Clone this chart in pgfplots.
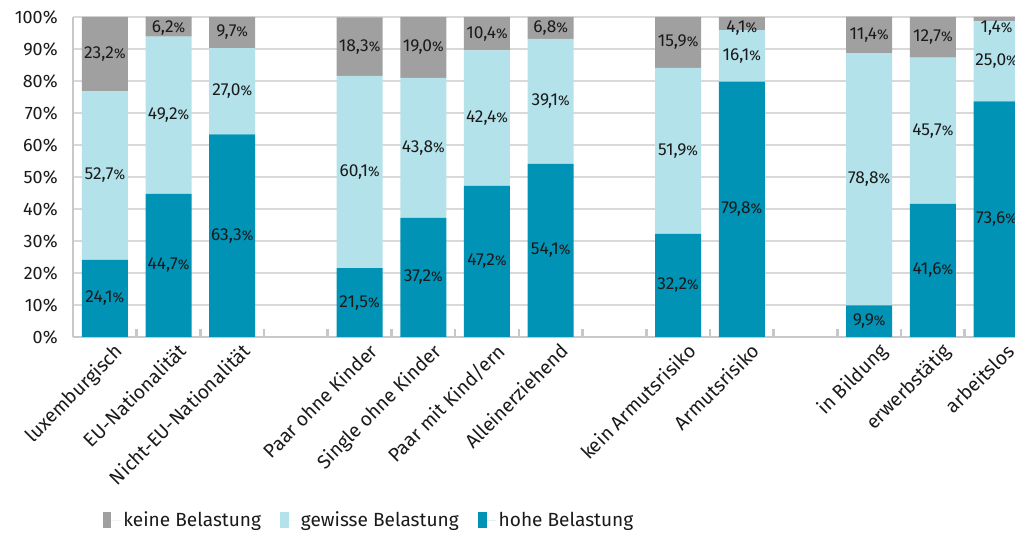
\documentclass[border=0pt]{standalone}
\usepackage{fontspec}
\setmainfont{Fira Sans}
\usepackage{pgfplots}
\usepackage{pgfplotstable}
\pgfplotsset{compat=1.18}
\definecolor{keine}{HTML}{A0A0A0}
\definecolor{gewisse}{HTML}{B3E2EA}
\definecolor{hohe}{HTML}{0093B6}
\definecolor{gridc}{HTML}{D9D9D9}
\definecolor{axisc}{HTML}{C8C8C8}
\definecolor{txt}{HTML}{1A1A1A}
\pgfplotstableread{
x hohe gewisse keine
0 24.1 52.7 23.2
1 44.7 49.2 6.2
2 63.3 27.0 9.7
4 21.5 60.1 18.3
5 37.2 43.8 19.0
6 47.2 42.4 10.4
7 54.1 39.1 6.8
9 32.2 51.9 15.9
10 79.8 16.1 4.1
12 9.9 78.8 11.4
13 41.6 45.7 12.7
14 73.6 25.0 1.4
}\datatable
\pgfplotstablecreatecol[create col/expr={\thisrow{hohe}/2}]{mA}\datatable
\pgfplotstablecreatecol[create col/expr={\thisrow{hohe}+\thisrow{gewisse}/2}]{mB}\datatable
\pgfplotstablecreatecol[create col/expr={\thisrow{hohe}+\thisrow{gewisse}+\thisrow{keine}-max(\thisrow{keine}/2,3.5)}]{mC}\datatable
\pgfplotsset{
  common/.style={
    at={(0pt,0pt)}, anchor=south west,
    scale only axis, width=706.5pt, height=240pt,
    xmin=-0.5, xmax=14.29, ymin=0, ymax=100,
  },
  lbl/.style={only marks, mark=*, mark size=0pt, mark options={draw=none, fill=none},
    point meta=explicit, nodes near coords,
    nodes near coords={\pgfmathprintnumber[fixed,fixed zerofill,precision=1,use comma,assume math mode=true]{\pgfplotspointmeta}{\fontsize{10.5}{12}\selectfont\%}},
    every node near coord/.append style={font=\fontsize{13}{15}\selectfont, text=txt, anchor=center, inner sep=0pt}},
  legimg/.style={legend image code/.code={\fill[#1] (0pt,-6.2pt) rectangle (6.4pt,6.2pt); \path (0pt,0pt) -- (13.5pt,0pt);}},
}
\begin{document}
\begin{tikzpicture}
\path[use as bounding box] (-54.75pt,-147.75pt) rectangle (706.5pt,252.75pt);
\begin{axis}[
  common,
  ybar stacked, bar width=34.5pt,
  axis x line*=bottom, axis y line*=left,
  axis line style={axisc, line width=1.2pt, -},
  ymajorgrids, grid style={gridc, line width=1.2pt},
  major tick length=0pt,
  ytick={0,10,...,100},
  yticklabel={\pgfmathprintnumber[assume math mode=true]{\tick}\%},
  yticklabel style={font=\fontsize{13.5}{15}\selectfont, text=txt, xshift=-8pt},
  xtick={0,1,2,4,5,6,7,9,10,12,13,14},
  xticklabels={luxemburgisch,EU-Nationalität,Nicht-EU-Nationalität,Paar ohne Kinder,Single ohne Kinder,Paar mit Kind/ern,Alleinerziehend,kein Armutsrisiko,Armutsrisiko,in Bildung,erwerbstätig,arbeitslos},
  xticklabel style={rotate=45, anchor=north east, font=\fontsize{14.5}{16}\selectfont, text=txt, inner sep=1pt, xshift=3pt, yshift=-6pt},
  extra x ticks={0.5,1.5,...,13.5},
  extra x tick labels={},
  extra x tick style={major tick length=6pt, tick align=inside, tick style={axisc, line width=2pt}},
  legend columns=-1,
  reverse legend,
  legend style={at={(0.027,-0.572)}, anchor=west, draw=none, fill=none,
    font=\fontsize{14.3}{16}\selectfont, text=txt,
    /tikz/every even column/.append style={column sep=12.5pt}},
]
\addplot[fill=hohe, draw=none, legimg=hohe] table[x=x, y=hohe] {\datatable};
\addplot[fill=gewisse, draw=none, legimg=gewisse] table[x=x, y=gewisse] {\datatable};
\addplot[fill=keine, draw=none, legimg=keine] table[x=x, y=keine] {\datatable};
\legend{hohe Belastung, gewisse Belastung, keine Belastung}
\end{axis}
\begin{axis}[common, hide axis, clip=false]
\addplot[lbl] table[x=x, y=mA, meta=hohe] {\datatable};
\addplot[lbl] table[x=x, y=mB, meta=gewisse] {\datatable};
\addplot[lbl] table[x=x, y=mC, meta=keine] {\datatable};
\end{axis}
\end{tikzpicture}
\end{document}
